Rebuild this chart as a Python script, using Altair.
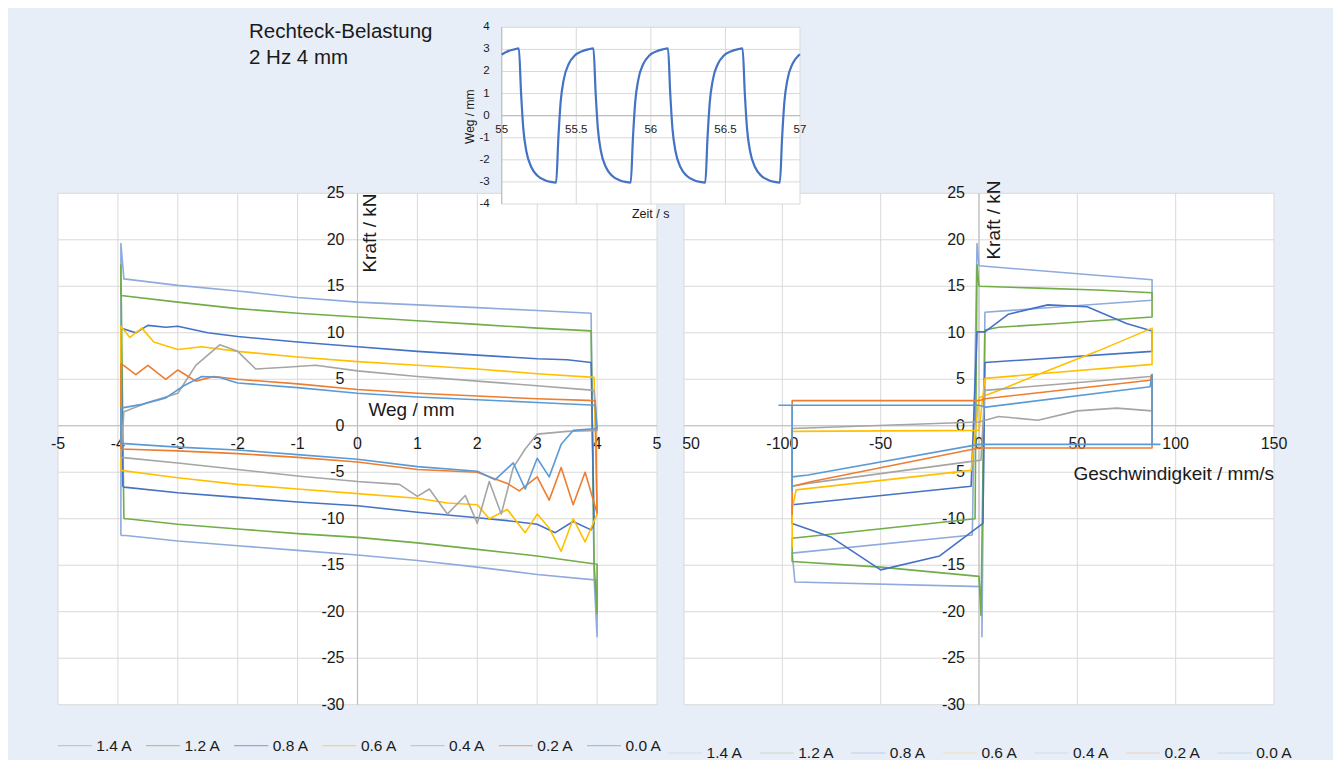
import altair as alt
import pandas as pd

# ---------------- data ----------------
SERIES = ["1.4 A", "1.2 A", "0.8 A", "0.6 A", "0.4 A", "0.2 A", "0.0 A"]
COLORS = ["#8FAADC", "#70AD47", "#4472C4", "#FFC000", "#A5A5A5", "#ED7D31", "#5B9BD5"]

# left panel: Kraft / kN over Weg / mm (one loop per current)
W14_X = [-3.95, -3.95, -3.9, -3.0, -2.0, -1.0, 0.0, 1.0, 2.0, 3.0, 3.9, 3.95, 4.0, 4.0, 3.0, 2.0, 1.0, 0.0, -1.0, -2.0, -3.0, -3.87, -3.95]
W14_F = [-11.8, 19.6, 15.8, 15.1, 14.5, 13.8, 13.3, 13.0, 12.7, 12.4, 12.1, -16.4, -22.7, -16.6, -16.0, -15.2, -14.5, -13.9, -13.4, -12.9, -12.4, -11.8, -11.8]
W12_X = [-3.9, -3.95, -3.95, -3.0, -2.0, -1.0, 0.0, 1.0, 2.0, 3.0, 3.9, 3.95, 4.0, 4.0, 3.0, 2.0, 1.0, 0.0, -1.0, -2.0, -3.0, -3.85, -3.9]
W12_F = [-10.0, 17.3, 14.0, 13.3, 12.6, 12.1, 11.7, 11.3, 10.9, 10.5, 10.2, -14.8, -20.2, -14.9, -14.0, -13.3, -12.6, -12.0, -11.6, -11.1, -10.6, -10.0, -10.0]
W08_X = [-3.92, -3.95, -3.7, -3.5, -3.2, -3.0, -2.5, -2.0, -1.0, 0.0, 1.0, 2.0, 3.0, 3.5, 3.9, 3.95, 3.9, 3.6, 3.3, 3.0, 2.5, 2.0, 1.0, 0.0, -1.0, -2.0, -3.0, -3.9, -3.92]
W08_F = [-6.5, 10.5, 10.0, 10.8, 10.6, 10.7, 10.0, 9.6, 9.0, 8.5, 8.0, 7.6, 7.2, 7.1, 6.8, -10.5, -11.2, -10.3, -11.5, -10.6, -10.2, -9.9, -9.3, -8.6, -8.2, -7.7, -7.2, -6.6, -6.5]
W06_X = [-3.95, -3.95, -3.8, -3.6, -3.4, -3.0, -2.6, -2.0, -1.0, 0.0, 1.0, 2.0, 3.0, 3.95, 4.0, 3.8, 3.6, 3.4, 3.2, 3.0, 2.8, 2.5, 2.2, 2.0, 1.5, 1.0, 0.0, -1.0, -2.0, -3.0, -3.95]
W06_F = [-4.8, 10.7, 9.5, 10.5, 9.0, 8.2, 8.5, 8.0, 7.4, 6.9, 6.5, 6.1, 5.6, 5.2, -9.5, -12.5, -10.0, -13.5, -11.0, -9.5, -11.5, -9.0, -10.0, -8.5, -8.3, -7.8, -7.3, -6.8, -6.3, -5.6, -4.8]
W04_X = [-3.95, -3.9, -3.5, -3.0, -2.7, -2.3, -2.0, -1.7, -1.2, -0.7, 0.0, 1.0, 2.0, 3.0, 3.95, 4.0, 3.5, 3.0, 2.8, 2.6, 2.4, 2.2, 2.0, 1.8, 1.5, 1.2, 1.0, 0.7, 0.0, -1.0, -2.0, -3.0, -3.95]
W04_F = [-3.4, 1.5, 2.5, 3.5, 6.5, 8.7, 8.0, 6.1, 6.3, 6.5, 5.9, 5.3, 4.8, 4.3, 3.8, -0.5, -0.6, -0.9, -2.5, -4.5, -9.5, -6.0, -10.5, -7.5, -9.5, -6.8, -7.6, -6.3, -6.0, -5.4, -4.7, -4.0, -3.4]
W02_X = [-3.95, -3.95, -3.7, -3.5, -3.2, -3.0, -2.7, -2.4, -2.0, -1.0, 0.0, 1.0, 2.0, 3.0, 3.97, 4.0, 3.8, 3.6, 3.4, 3.2, 3.0, 2.7, 2.5, 2.0, 1.0, 0.0, -1.0, -2.0, -3.0, -3.95]
W02_F = [-2.5, 6.7, 5.5, 6.5, 5.0, 6.0, 4.8, 5.3, 5.0, 4.5, 3.9, 3.5, 3.2, 2.9, 2.7, -9.4, -5.0, -8.5, -4.5, -8.0, -5.5, -7.0, -6.2, -5.0, -4.7, -3.9, -3.4, -3.0, -2.7, -2.5]
W00_X = [-3.95, -3.95, -3.6, -3.2, -2.9, -2.6, -2.3, -2.0, -1.0, 0.0, 1.0, 2.0, 3.0, 3.97, 4.0, 3.6, 3.4, 3.2, 3.0, 2.8, 2.6, 2.3, 2.0, 1.0, 0.0, -1.0, -2.0, -3.0, -3.95]
W00_F = [-1.9, 1.9, 2.3, 3.0, 4.3, 5.3, 5.2, 4.6, 4.1, 3.5, 3.1, 2.8, 2.5, 2.2, -0.3, -0.5, -2.0, -5.5, -3.5, -6.8, -4.0, -5.8, -4.9, -4.4, -3.6, -3.1, -2.6, -2.3, -1.9]

# right panel: Kraft / kN over Geschwindigkeit / mm/s
V14_V = [0, 88, 88, 3, 1.5, 1.5, -93.6, -95, -3.4, -1, 0]
V14_F = [17.2, 15.7, 13.5, 12.2, -22.7, -17.3, -16.8, -13.7, -11.75, 19.6, 17.2]
V12_V = [0, 30, 60, 88, 88, 40, 10, 3, 1, 0, -50, -95, -95, -2, -1, 0]
V12_F = [15.0, 14.8, 14.6, 14.3, 11.7, 11.0, 10.6, 10.3, -20.4, -16.2, -15.2, -14.6, -12.1, -10.0, 17.3, 15.0]
V08_V = [0, 3, 15, 35, 55, 75, 88, 88, 3, 2, -20, -50, -75, -95, -95, -4, -1, 0]
V08_F = [10.1, 10.1, 12.0, 13.0, 12.8, 11.0, 10.2, 8.0, 6.8, -10.5, -14.0, -15.5, -12.0, -10.5, -8.5, -6.5, 10.1, 10.1]
V06_V = [3, 0, -95, -95, -95, -93, -4, 0, 10, 30, 60, 88, 88, 3]
V06_F = [5.1, -0.5, -0.6, -13.0, -9.0, -6.9, -4.8, 3.0, 3.8, 5.5, 8.0, 10.5, 6.6, 5.1]
V04_V = [0, 10, 30, 50, 70, 88, 88, 87, 3, 1, -87, -95, -95, 0]
V04_F = [0.4, 1.0, 0.6, 1.6, 1.9, 1.6, 5.5, 5.3, 3.8, -3.7, -6.2, -6.5, -0.3, 0.4]
V02_V = [0, 3, 87, 88, 88, 0, -85, -95, -95, -95, 0]
V02_F = [2.7, 2.9, 4.9, 5.5, -2.4, -2.4, -6.0, -6.5, -9.5, 2.7, 2.7]
V00_V = [-102, 0, 3.5, 87, 88, 88, 92, 0, -87, -95, -95, -95]
V00_F = [2.2, 2.2, 2.0, 4.2, 5.5, -2.0, -2.0, -2.0, -5.3, -5.5, -7.0, 2.2]

# inset: Weg / mm over Zeit / s
ZEIT = [55.000, 55.030, 55.060, 55.090, 55.115, 55.130, 55.145, 55.165, 55.200, 55.240, 55.290, 55.330,
        55.365, 55.380, 55.395, 55.415, 55.450, 55.490, 55.540, 55.580, 55.615, 55.630, 55.645, 55.665,
        55.700, 55.740, 55.790, 55.830, 55.865, 55.880, 55.895, 55.915, 55.950, 55.990, 56.040, 56.080,
        56.115, 56.130, 56.145, 56.165, 56.200, 56.240, 56.290, 56.330, 56.365, 56.380, 56.395, 56.415,
        56.450, 56.490, 56.540, 56.580, 56.615, 56.630, 56.645, 56.665, 56.700, 56.740, 56.790, 56.830,
        56.865, 56.880, 56.895, 56.915, 56.950, 56.990, 57.000]
WEG_T = [2.76, 2.88, 2.96, 3.01, 3.05, 1.00, -0.60, -1.60, -2.35, -2.72, -2.92, -3.00,
         -3.03, -1.00, 0.60, 1.60, 2.35, 2.72, 2.92, 3.00, 3.05, 1.00, -0.60, -1.60,
         -2.35, -2.72, -2.92, -3.00, -3.03, -1.00, 0.60, 1.60, 2.35, 2.72, 2.92, 3.00,
         3.05, 1.00, -0.60, -1.60, -2.35, -2.72, -2.92, -3.00, -3.03, -1.00, 0.60, 1.60,
         2.35, 2.72, 2.92, 3.00, 3.05, 1.00, -0.60, -1.60, -2.35, -2.72, -2.92, -3.00,
         -3.03, -1.00, 0.60, 1.60, 2.35, 2.72, 2.78]

X_TICKS_L = [-5, -4, -3, -2, -1, 0, 1, 2, 3, 4, 5]
X_TICKS_R = [-150, -100, -50, 0, 50, 100, 150]
Y_TICKS = [-30, -25, -20, -15, -10, -5, 0, 5, 10, 15, 20, 25]
X_TICKS_I = [55, 55.5, 56, 56.5, 57]
Y_TICKS_I = [-4, -3, -2, -1, 0, 1, 2, 3, 4]

# ---------------- layout ----------------
M = 8
BG = "#E8EEF7"
FONT = "Liberation Sans"
TXT = "#1a1a1a"
GRID = "#D9D9D9"
AXIS = "#BFBFBF"


def sc(dom, rng):
    return alt.Scale(domain=dom, range=[r - M for r in rng], nice=False, zero=False)


LX = sc([-5, 5], [58, 657])
RX = sc([-150, 150], [684, 1274])
PY = sc([-30, 25], [704.7, 193.3])
IX = sc([55, 57], [501.7, 800])
IY = sc([-4, 4], [204, 27.3])
CS = alt.Scale(domain=SERIES, range=COLORS)


def fmt(v):
    return f"{v:g}"


def frame(xt, yt, xs, ys, axis_color, xlab_dy, ylab_dx, fsize):
    out = []
    bg = pd.DataFrame({"x0": [xt[0]], "x1": [xt[-1]], "y0": [yt[0]], "y1": [yt[-1]]})
    out.append(alt.Chart(bg).mark_rect(color="white").encode(
        x=alt.X("x0:Q", scale=xs, axis=None), x2="x1:Q",
        y=alt.Y("y0:Q", scale=ys, axis=None), y2="y1:Q"))
    vg = pd.DataFrame({"x": xt, "y0": [yt[0]] * len(xt), "y1": [yt[-1]] * len(xt)})
    out.append(alt.Chart(vg).mark_rule(color=GRID, strokeWidth=1).encode(
        x=alt.X("x:Q", scale=xs, axis=None),
        y=alt.Y("y0:Q", scale=ys, axis=None), y2="y1:Q"))
    hg = pd.DataFrame({"y": yt, "x0": [xt[0]] * len(yt), "x1": [xt[-1]] * len(yt)})
    out.append(alt.Chart(hg).mark_rule(color=GRID, strokeWidth=1).encode(
        y=alt.Y("y:Q", scale=ys, axis=None),
        x=alt.X("x0:Q", scale=xs, axis=None), x2="x1:Q"))
    x_at = max(xt[0], 0) if xt[0] <= 0 else xt[0]
    y_at = max(yt[0], 0) if yt[0] <= 0 else yt[0]
    ax = pd.DataFrame({"x": [x_at], "y0": [yt[0]], "y1": [yt[-1]]})
    out.append(alt.Chart(ax).mark_rule(color=axis_color, strokeWidth=1.2).encode(
        x=alt.X("x:Q", scale=xs, axis=None),
        y=alt.Y("y0:Q", scale=ys, axis=None), y2="y1:Q"))
    ay = pd.DataFrame({"y": [y_at], "x0": [xt[0]], "x1": [xt[-1]]})
    out.append(alt.Chart(ay).mark_rule(color=axis_color, strokeWidth=1.2).encode(
        y=alt.Y("y:Q", scale=ys, axis=None),
        x=alt.X("x0:Q", scale=xs, axis=None), x2="x1:Q"))
    xl = pd.DataFrame({"x": xt, "y": [y_at] * len(xt), "lab": [fmt(v) for v in xt]})
    out.append(alt.Chart(xl).mark_text(dy=xlab_dy, align="center", baseline="middle",
                                       font=FONT, fontSize=fsize, color=TXT).encode(
        x=alt.X("x:Q", scale=xs, axis=None), y=alt.Y("y:Q", scale=ys, axis=None), text="lab:N"))
    yl = pd.DataFrame({"y": yt, "x": [x_at] * len(yt), "lab": [fmt(v) for v in yt]})
    out.append(alt.Chart(yl).mark_text(dx=ylab_dx, align="right", baseline="middle",
                                       font=FONT, fontSize=fsize, color=TXT).encode(
        x=alt.X("x:Q", scale=xs, axis=None), y=alt.Y("y:Q", scale=ys, axis=None), text="lab:N"))
    return out


def loops(pairs, xs, ys, width):
    out = []
    for name, (xv, fv) in zip(SERIES, pairs):
        df = pd.DataFrame({"x": xv, "F": fv, "i": list(range(len(xv))), "series": [name] * len(xv)})
        out.append(alt.Chart(df).mark_line(strokeWidth=width, strokeJoin="round").encode(
            x=alt.X("x:Q", scale=xs, axis=None),
            y=alt.Y("F:Q", scale=ys, axis=None),
            order="i:Q",
            color=alt.Color("series:N", scale=CS, legend=None)))
    return out


def label(text, x, y, size, angle=0, align="center", baseline="middle"):
    kw = dict(text=text, font=FONT, fontSize=size, color=TXT, align=align, baseline=baseline)
    if angle:
        kw["angle"] = angle
    return alt.Chart(pd.DataFrame({"a": [0]})).mark_text(**kw).encode(
        x=alt.value(x - M), y=alt.value(y - M))


def legend(start, step, y, opacity):
    lx = sc([0, 7], [start, start + 7 * step])
    leg = pd.DataFrame({"series": SERIES, "i": list(range(len(SERIES)))})
    a = -38.5 / step
    b = -4.5 / step
    lines = alt.Chart(leg).transform_calculate(a=f"datum.i + ({a})", b=f"datum.i + ({b})").mark_rule(
        strokeWidth=1.3, opacity=opacity).encode(
        x=alt.X("a:Q", scale=lx, axis=None), x2="b:Q", y=alt.value(y - M),
        color=alt.Color("series:N", scale=CS, legend=None))
    texts = alt.Chart(leg).mark_text(align="left", baseline="middle", font=FONT, fontSize=15.5,
                                     color=TXT).encode(
        x=alt.X("i:Q", scale=lx, axis=None), y=alt.value(y - M), text="series:N")
    return [lines, texts]


layers = []
# left panel
layers += frame(X_TICKS_L, Y_TICKS, LX, PY, AXIS, 18.5, -13, 16)
layers += loops([(W14_X, W14_F), (W12_X, W12_F), (W08_X, W08_F), (W06_X, W06_F),
                 (W04_X, W04_F), (W02_X, W02_F), (W00_X, W00_F)], LX, PY, 1.6)
# right panel
layers += frame(X_TICKS_R, Y_TICKS, RX, PY, AXIS, 18.5, -14, 16)
# the leftmost tick label of the right panel is cut off at the panel edge in the original
cut = pd.DataFrame({"x0": [-160.9], "x1": [-151.0], "y0": [-3.2], "y1": [-0.8]})
layers.append(alt.Chart(cut).mark_rect(color=BG).encode(
    x=alt.X("x0:Q", scale=RX, axis=None), x2="x1:Q",
    y=alt.Y("y0:Q", scale=PY, axis=None), y2="y1:Q"))
layers += loops([(V14_V, V14_F), (V12_V, V12_F), (V08_V, V08_F), (V06_V, V06_F),
                 (V04_V, V04_F), (V02_V, V02_F), (V00_V, V00_F)], RX, PY, 1.6)
# axis titles of main panels
layers += [
    label("Kraft / kN", 370, 233, 19, angle=270),
    label("Weg / mm", 411.5, 409.5, 19),
    label("Kraft / kN", 993.5, 220, 19, angle=270),
    label("Geschwindigkeit / mm/s", 1274, 474, 19, align="right"),
]
# inset
layers += frame(X_TICKS_I, Y_TICKS_I, IX, IY, AXIS, 14, -12, 11.5)
ins = pd.DataFrame({"t": ZEIT, "w": WEG_T, "i": list(range(len(ZEIT)))})
layers.append(alt.Chart(ins).mark_line(color="#4472C4", strokeWidth=2.2, interpolate="monotone").encode(
    x=alt.X("t:Q", scale=IX, axis=None), y=alt.Y("w:Q", scale=IY, axis=None), order="i:Q"))
layers += [
    label("Weg / mm", 470, 116.7, 12, angle=270),
    label("Zeit / s", 650.7, 214, 12.5),
    label("Rechteck-Belastung", 249, 38.3, 20.5, align="left", baseline="alphabetic"),
    label("2 Hz 4 mm", 249, 64, 20.5, align="left", baseline="alphabetic"),
]
# legends
layers += legend(96.3, 88.2, 745.7, 0.55)
layers += legend(706.6, 91.6, 753, 0.18)

chart = alt.layer(*layers).resolve_scale(x="independent", y="independent").properties(
    width=1325, height=752, autosize=alt.AutoSizeParams(type="none"), padding=0, background=BG
).configure_view(stroke=None)

chart.save("out.html", embed_options={"renderer": "svg", "actions": False})
